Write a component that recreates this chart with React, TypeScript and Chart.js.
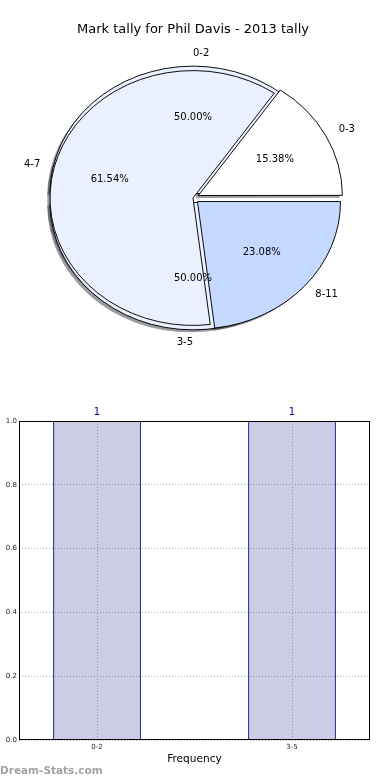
import React, { useEffect, useRef } from 'react';
import { Chart, registerables } from 'chart.js';

Chart.register(...registerables);

// ---------- data ----------
const TITLE = 'Mark tally for Phil Davis - 2013 tally';

const FRONT_LABELS = ['0-3', '4-7', '8-11'];
const FRONT_VALUES = [2, 8, 3];
const FRONT_COLORS = ['#ffffff', '#eaf0fe', '#c5d8ff'];
const FRONT_EXPLODE = [6, 0, 6];

const BACK_LABELS = ['0-2', '3-5'];
const BACK_VALUES = [1, 1];
const BACK_COLORS = ['#eaf0fe', '#eaf0fe'];
const BACK_EXPLODE = [5, 5];

const BAR_LABELS = ['0-2', '3-5'];
const BAR_POSITIONS = [0, 1];
const BAR_VALUES = [1, 1];
const BAR_WIDTH = 0.45;
const X_MIN = -0.4;
const X_MAX = 1.4;
const Y_MIN = 0;
const Y_MAX = 1;
const Y_STEP = 0.2;
const X_TITLE = 'Frequency';
const WATERMARK = 'Dream-Stats.com';

// ---------- style ----------
const FONT = '"DejaVu Sans", sans-serif';
const FRONT_RADIUS = 143;
const BACK_RADIUS = 138;
const SY = 0.891;
const SHADOW = 'rgba(55,55,65,0.5)';
const SHADOW_DX = -2.8;
const SHADOW_DY = 2.5;
const GRID = '#b4b4b4';
const NAVY = '#000080';

function applyEllipse(ctx: CanvasRenderingContext2D, chart: any) {
  const a = chart.getDatasetMeta(0).data[0];
  if (!a) return;
  ctx.translate(a.x, a.y);
  ctx.scale(1, -SY);
  ctx.translate(-a.x, -a.y);
}

function drawPieLabels(ctx: CanvasRenderingContext2D, chart: any, labels: string[], values: number[]) {
  const meta = chart.getDatasetMeta(0);
  const total = values.reduce((s, v) => s + v, 0);
  ctx.save();
  ctx.fillStyle = '#000';
  ctx.font = `10px ${FONT}`;
  ctx.textBaseline = 'middle';
  meta.data.forEach((el: any, i: number) => {
    const { x, y, startAngle, endAngle, outerRadius } = el;
    const t = (el.options.offset || 0) / 4;
    const circ = endAngle - startAngle;
    const fix = 1 - Math.sin(Math.min(Math.PI, circ));
    const r = outerRadius + t * fix;
    const mid = (startAngle + endAngle) / 2;
    const pos = (k: number) => {
      const d = t + k * r;
      return [x + Math.cos(mid) * d, y - SY * Math.sin(mid) * d];
    };
    const [lx, ly] = pos(1.1);
    ctx.textAlign = Math.cos(mid) > 0 ? 'left' : 'right';
    ctx.fillText(labels[i], lx, ly);
    const [px, py] = pos(0.6);
    ctx.textAlign = 'center';
    ctx.fillText(((values[i] / total) * 100).toFixed(2) + '%', px, py);
  });
  ctx.restore();
}

function pieConfig(labels: string[], values: number[], colors: string[], explode: number[], radius: number, showTitle: boolean, plugin: any): any {
  return {
    type: 'pie',
    data: {
      labels,
      datasets: [
        {
          data: values,
          backgroundColor: colors,
          borderColor: '#000',
          borderWidth: 1,
          borderJoinStyle: 'miter',
          offset: explode.map((t) => t * 4),
          hoverOffset: 0,
          radius,
        },
      ],
    },
    options: {
      responsive: false,
      animation: false,
      events: [],
      rotation: 90,
      layout: { padding: { top: 12, bottom: 31.6, left: 0, right: 4 } },
      plugins: {
        legend: { display: false },
        tooltip: { enabled: false },
        title: {
          display: true,
          text: TITLE,
          color: showTitle ? '#000' : 'rgba(0,0,0,0)',
          font: { family: FONT, size: 13, weight: 'normal' },
          padding: { top: 10, bottom: 10 },
        },
      },
    },
    plugins: [plugin],
  };
}

export default function App() {
  const backRef = useRef<HTMLCanvasElement>(null);
  const frontRef = useRef<HTMLCanvasElement>(null);
  const barRef = useRef<HTMLCanvasElement>(null);

  useEffect(() => {
    let front: any = null;
    let back: any = null;

    const backPlugin = {
      id: 'backPie',
      beforeDatasetsDraw(chart: any) {
        const ctx = chart.ctx;
        const charts = [chart, front].filter(Boolean);
        ctx.save();
        ctx.translate(SHADOW_DX, SHADOW_DY);
        for (const c of charts) {
          ctx.save();
          applyEllipse(ctx, c);
          c.getDatasetMeta(0).data.forEach((el: any) => {
            const o = el.options;
            el.options = { ...o, backgroundColor: SHADOW, borderWidth: 0 };
            el.draw(ctx);
            el.options = o;
          });
          ctx.restore();
        }
        ctx.restore();
        ctx.save();
        applyEllipse(ctx, chart);
      },
      afterDatasetsDraw(chart: any) {
        chart.ctx.restore();
      },
    };

    const frontPlugin = {
      id: 'frontPie',
      beforeDatasetsDraw(chart: any) {
        chart.ctx.save();
        applyEllipse(chart.ctx, chart);
      },
      afterDatasetsDraw(chart: any) {
        chart.ctx.restore();
      },
      afterDraw(chart: any) {
        if (back) drawPieLabels(chart.ctx, back, BACK_LABELS, BACK_VALUES);
        drawPieLabels(chart.ctx, chart, FRONT_LABELS, FRONT_VALUES);
      },
    };

    back = new Chart(backRef.current!, pieConfig(BACK_LABELS, BACK_VALUES, BACK_COLORS, BACK_EXPLODE, BACK_RADIUS, false, backPlugin));
    front = new Chart(frontRef.current!, pieConfig(FRONT_LABELS, FRONT_VALUES, FRONT_COLORS, FRONT_EXPLODE, FRONT_RADIUS, true, frontPlugin));
    back.draw();

    const barPlugin = {
      id: 'barExtras',
      afterDatasetsDraw(chart: any) {
        const ctx = chart.ctx;
        const a = chart.chartArea;
        ctx.save();
        ctx.strokeStyle = '#000';
        ctx.lineWidth = 1;
        ctx.strokeRect(Math.round(a.left) + 0.5, Math.round(a.top) + 0.5, Math.round(a.right - a.left) - 1, Math.round(a.bottom - a.top) - 1);
        ctx.fillStyle = NAVY;
        ctx.font = `10px ${FONT}`;
        ctx.textAlign = 'center';
        ctx.textBaseline = 'middle';
        chart.getDatasetMeta(0).data.forEach((el: any, i: number) => {
          ctx.fillText(String(BAR_VALUES[i]), el.x, el.y - 9);
        });
        ctx.restore();
      },
      afterDraw(chart: any) {
        const ctx = chart.ctx;
        ctx.save();
        ctx.fillStyle = '#a3a3a3';
        ctx.font = `bold 10.5px ${FONT}`;
        ctx.textAlign = 'left';
        ctx.textBaseline = 'alphabetic';
        ctx.fillText(WATERMARK, 0, 374);
        ctx.restore();
      },
    };

    const bar = new Chart(barRef.current!, {
      type: 'bar',
      data: {
        datasets: [
          {
            data: BAR_POSITIONS.map((x, i) => ({ x, y: BAR_VALUES[i] })),
            backgroundColor: 'rgba(0,0,128,0.2)',
            borderColor: NAVY,
            borderWidth: 1,
            borderSkipped: 'bottom',
            barPercentage: BAR_WIDTH,
            categoryPercentage: 1,
          } as any,
        ],
      },
      options: {
        responsive: false,
        animation: false,
        events: [],
        layout: { padding: { top: 21, right: 20, left: 0, bottom: 0 } },
        plugins: { legend: { display: false }, tooltip: { enabled: false } },
        scales: {
          x: {
            type: 'linear',
            min: X_MIN,
            max: X_MAX,
            offset: false,
            afterBuildTicks: (s: any) => {
              s.ticks = BAR_POSITIONS.map((v) => ({ value: v }));
            },
            afterFit: (s: any) => {
              s.height = 40;
            },
            grid: { color: GRID, tickLength: 0, offset: false },
            border: { display: false, dash: [1, 2] },
            ticks: {
              autoSkip: false,
              maxRotation: 0,
              padding: 3,
              color: '#222',
              font: { family: FONT, size: 7 },
              callback: (v: any) => {
                const i = BAR_POSITIONS.indexOf(Number(v));
                return i >= 0 ? BAR_LABELS[i] : '';
              },
            },
            title: {
              display: true,
              text: X_TITLE,
              color: '#000',
              font: { family: FONT, size: 10.6 },
              padding: { top: 0, bottom: 14 },
            },
          } as any,
          y: {
            min: Y_MIN,
            max: Y_MAX,
            afterFit: (s: any) => {
              s.width = 19;
            },
            grid: { color: GRID, tickLength: 0 },
            border: { display: false, dash: [1, 2] },
            ticks: {
              stepSize: Y_STEP,
              padding: 2,
              color: '#222',
              font: { family: FONT, size: 7 },
              callback: (v: any) => Number(v).toFixed(1),
            },
          } as any,
        },
      },
      plugins: [barPlugin],
    });

    return () => {
      front.destroy();
      back.destroy();
      bar.destroy();
    };
  }, []);

  return (
    <div style={{ position: 'absolute', left: 0, top: 0, width: 390, height: 780, background: '#fff' }}>
      <canvas ref={backRef} width={390} height={380} style={{ position: 'absolute', left: 0, top: 0 }} />
      <canvas ref={frontRef} width={390} height={380} style={{ position: 'absolute', left: 0, top: 0 }} />
      <canvas ref={barRef} width={390} height={380} style={{ position: 'absolute', left: 0, top: 400 }} />
    </div>
  );
}
